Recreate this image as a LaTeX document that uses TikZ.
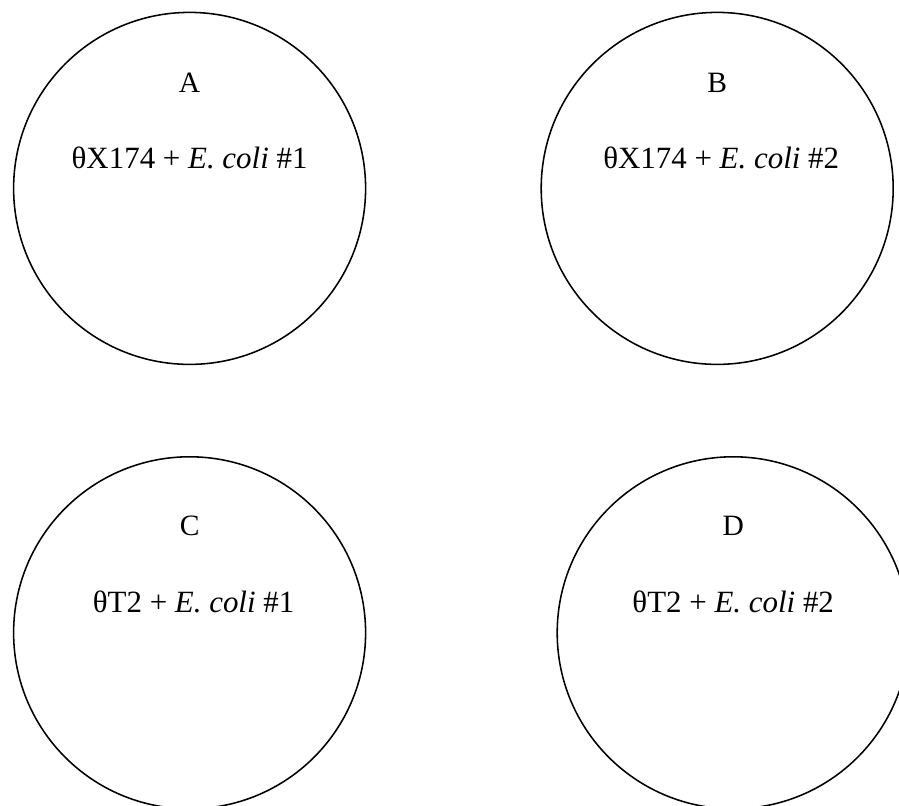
\documentclass[tikz,border=0pt]{standalone}
\usepackage{fontspec}
\setmainfont{Liberation Serif}
\usepackage{tikz}
\tikzset{
plate/.style={circle, minimum size=8.8cm, inner sep=0pt, draw=black, line width=1.1pt},
platename/.style={font=\fontsize{21}{25}\selectfont, inner sep=0pt},
mix/.style={font=\fontsize{22}{26}\selectfont, inner sep=0pt}}

\begin{document}
\begin{tikzpicture}
\useasboundingbox (0,0) rectangle (22.475,20.15);
\node (plateA) [plate] at (4.74,15.44) {};
\node (plateB) [plate] at (17.93,15.44) {};
\node (plateC) [plate] at (4.74,4.33) {};
\node (plateD) [plate] at (18.33,4.33) {};

\node (mixA) [mix, above of=plateA, node distance=0.76cm] {θX174 + \textit{E. coli} \#1};
\node (mixB) [mix, above of=plateB, node distance=0.76cm, xshift=0.1cm] {θX174 + \textit{E. coli} \#2};
\node (mixC) [mix, above of=plateC, node distance=0.78cm, xshift=0.1cm] {θT2 + \textit{E. coli} \#1};
\node (mixD) [mix, above of=plateD, node distance=0.78cm] {θT2 + \textit{E. coli} \#2};

\node (nameA) [platename, above of=plateA, node distance=2.64cm] {A};
\node (nameB) [platename, above of=plateB, node distance=2.64cm] {B};
\node (nameC) [platename, above of=plateC, node distance=2.68cm] {C};
\node (nameD) [platename, above of=plateD, node distance=2.68cm] {D};
\end{tikzpicture}
\end{document}
